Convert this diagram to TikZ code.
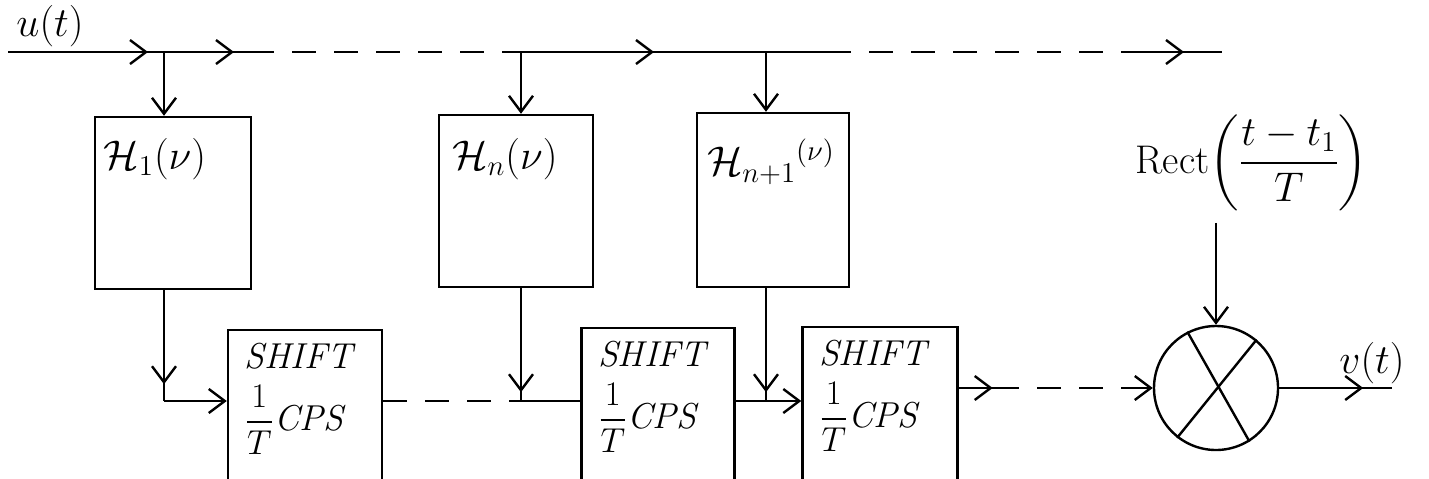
\documentclass[tikz,border=0pt]{standalone}
\usepackage{fontspec}
\usepackage{amssymb}
\usepackage{tikz}
\usetikzlibrary{arrows.meta,calc,decorations.markings}
\tikzset{blk/.style={draw,inner sep=0pt},
endtip/.style={-{Straight Barb[length=8pt,width=12pt]}},
midtip/.style={postaction={decorate,decoration={markings,mark=at position #1 with {\arrow{Straight Barb[length=8pt,width=12pt]}}}}},
dsh/.style={dash pattern=on 12pt off 9pt},
shiftlbl/.style={anchor=north west,align=left,font=\fontsize{18}{22}\selectfont\itshape}}

\begin{document}
\begin{tikzpicture}[x=.5pt,y=-.5pt,line width=1.2pt,font=\fontsize{20}{24}\selectfont]
\useasboundingbox(0,0)rectangle(1429,478);\clip(0,0)rectangle(1429,478);
\node(u)at(50,26){$u(t)$};
\coordinate(a)at(8,52);\coordinate(b1)at(164,52);\coordinate(c)at(250,52);\coordinate(d)at(512,52);\coordinate(b2)at(521,52);
\coordinate(b3)at(766,52);\coordinate(e)at(827,52);\coordinate(f)at(1140,52);\coordinate(g)at(1222,52);
\draw[midtip=70pt,midtip=113pt](a)--(c);\draw[dsh](c)--(d);\draw[midtip=71pt](d)--(e);\draw[dsh](e)--(f);\draw[midtip=22pt](f)--(g);
\node[blk,minimum width=78pt,minimum height=86pt](h1)at(173,203){};\node(l1)at($(h1.north)+(-18,43)$){$\mathcal{H}_1(\nu)$};
\node[blk,minimum width=77pt,minimum height=86pt](hn)at(516,201){};\node(ln)at($(hn.north)+(-11,45)$){$\mathcal{H}_n(\nu)$};
\node[blk,minimum width=76pt,minimum height=87pt](hm)at(773,200){};\node(lm)at($(hm.north)+(-2,50)$){$\mathcal{H}_{n+1}{}^{(\nu)}$};
\draw[endtip](b1)--(b1|-h1.north);\draw[endtip](b2)--(b2|-hn.north);\draw[endtip](b3)--(b3|-hm.north);
\node[blk,minimum width=77pt,minimum height=85pt](s1)at(305,415){};\node[shiftlbl](t1)at($(s1.north west)+(10,6)$){SHIFT\\[7pt]$\displaystyle\frac{1}{T}$CPS};
\node[blk,minimum width=76.5pt,minimum height=86pt](s2)at(658,414){};\node[shiftlbl](t2)at($(s2.north west)+(10,6)$){SHIFT\\[7pt]$\displaystyle\frac{1}{T}$CPS};
\node[blk,minimum width=77.5pt,minimum height=87pt](s3)at(880,414){};\node[shiftlbl](t3)at($(s3.north west)+(10,6)$){SHIFT\\[7pt]$\displaystyle\frac{1}{T}$CPS};
\coordinate(r)at(0,401);\coordinate(k1)at(b1|-r);\coordinate(k2)at(b2|-r);\coordinate(k3)at(b3|-r);
\draw[midtip=47pt](b1|-h1.south)--(k1);\draw[endtip](k1)--(k1-|s1.west);
\draw[midtip=52pt](b2|-hn.south)--(k2);\draw[dsh](s1.east|-r)--(k2);\draw(k2)--(k2-|s2.west);
\draw[midtip=52pt](b3|-hm.south)--(k3);\draw[endtip](s2.east|-r)--(s3.west|-r);
\node[draw,circle,minimum size=62pt,inner sep=0pt](m)at(1216,388){};\draw(m.117)--(m.-58);\draw(m.50)--(m.-128);
\coordinate(q1)at(995,388);\coordinate(q2)at(1128,388);
\draw[midtip=17pt](s3.east|-m)--(q1);\draw[dsh](q1)--(q2);\draw[endtip](q2)--(m.west);
\node(rc)at(1252,163){$\mathrm{Rect}\!\left(\displaystyle\frac{t-t_1}{T}\right)$};
\draw[endtip,shorten <=2pt](m.north|-rc.south)--(m.north);
\coordinate(o)at(1392,388);\draw[midtip=42pt](m.east)--(o);\node(v)at(1372,363){$v(t)$};
\end{tikzpicture}
\end{document}
